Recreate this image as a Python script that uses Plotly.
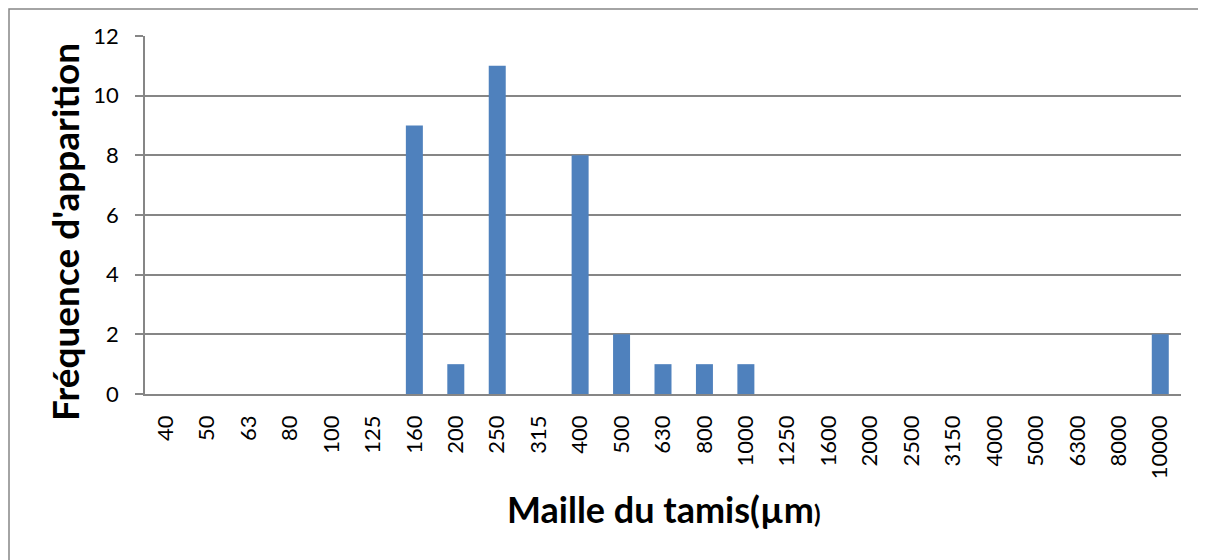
import plotly.graph_objects as go

categories = ["40", "50", "63", "80", "100", "125", "160", "200", "250", "315", "400", "500",
              "630", "800", "1000", "1250", "1600", "2000", "2500", "3150", "4000", "5000",
              "6300", "8000", "10000"]
frequencies = [0, 0, 0, 0, 0, 0, 9, 1, 11, 0, 8, 2, 1, 1, 1, 0, 0, 0, 0, 0, 0, 0, 0, 0, 2]
y_ticks = [0, 2, 4, 6, 8, 10, 12]
x_title = "Maille du tamis(µm"
y_title = "Fréquence d'apparition"

# page body has an 8px default margin; compensate so the plot lands where the reference has it
OFF = 8
W, H = 1206 - OFF, 560 - OFF
L, R, T, B = 145 - OFF, 25, 36 - OFF, 166
pw, ph = W - L - R, H - T - B
# plot area in page pixels
PX0, PY0, PX1, PY1 = 145, 36, 1181, 394


def px(xp):
    return (xp - PX0) / (PX1 - PX0)


def py(yp):
    return (PY1 - yp) / (PY1 - PY0)


fig = go.Figure(go.Bar(x=categories, y=frequencies, marker=dict(color="#4F81BD", line=dict(width=0)),
                       hoverinfo="x+y"))

font = "Lato, 'Open Sans', sans-serif"
grid = "#868686"

fig.update_layout(
    width=W, height=H,
    margin=dict(l=L, r=R, t=T, b=B, autoexpand=False),
    paper_bgcolor="white", plot_bgcolor="white",
    bargap=0.59,
    showlegend=False,
    font=dict(family=font, color="black", size=16),
    xaxis=dict(
        type="category", tickangle=-90, showgrid=False, showline=True, linecolor=grid, linewidth=1.5,
        ticks="outside", ticklen=11, tickcolor="rgba(0,0,0,0)", tickfont=dict(size=22, family=font),
        fixedrange=True,
    ),
    yaxis=dict(
        range=[0, 12], tickvals=y_ticks, showgrid=True, gridcolor=grid, gridwidth=1.5,
        showline=True, linecolor=grid, linewidth=1.5, zeroline=False,
        ticks="outside", ticklen=8, tickcolor=grid, tickwidth=1.5, ticklabelstandoff=12,
        tickfont=dict(size=22, family=font),
        fixedrange=True,
    ),
    annotations=[
        dict(text="<b>" + x_title + "</b><b><span style='font-size:24px'>)</span></b>",
             xref="paper", yref="paper", x=px(663), y=py(509), xanchor="center", yanchor="middle",
             showarrow=False, font=dict(size=36, family=font, color="black")),
        dict(text="<b>" + y_title + "</b>", textangle=-90,
             xref="paper", yref="paper", x=px(64), y=py(232), xanchor="center", yanchor="middle",
             showarrow=False, font=dict(size=37, family=font, color="black")),
    ],
)

# chart border (Excel chart area outline)
fig.add_shape(type="rect", xref="paper", yref="paper",
              x0=(1 - L) / pw, x1=(W + 5 - L) / pw,
              y0=(H - B - (H + 5)) / ph, y1=(H - B - 1) / ph,
              line=dict(color=grid, width=1.5), fillcolor="rgba(0,0,0,0)", layer="below")

fig.write_html("out.html")
